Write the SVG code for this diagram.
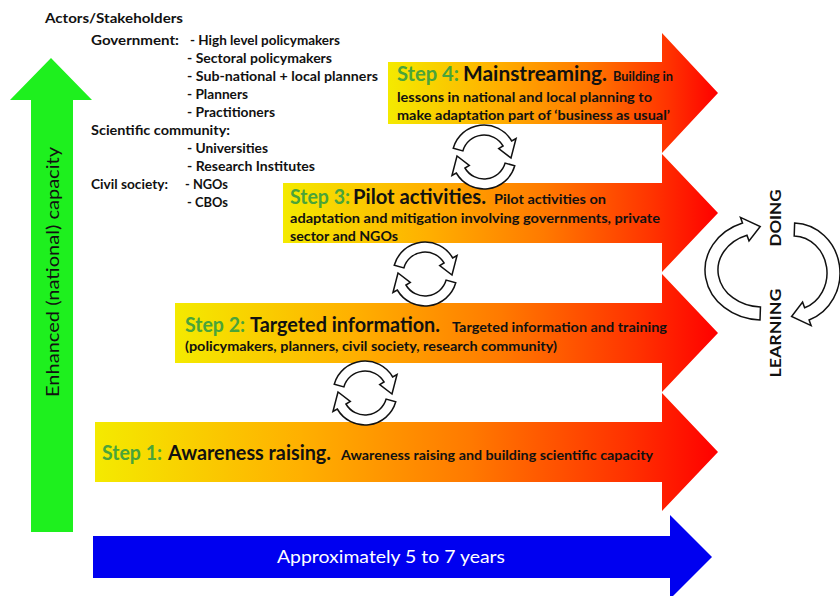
<svg xmlns="http://www.w3.org/2000/svg" width="840" height="596" viewBox="0 0 840 596">
<defs>
<linearGradient id="stepGrad" x1="0" y1="0" x2="1" y2="0">
<stop offset="0" stop-color="#f4ea00"/>
<stop offset="0.33" stop-color="#ffb000"/>
<stop offset="0.6" stop-color="#ff7a00"/>
<stop offset="0.85" stop-color="#ff3300"/>
<stop offset="1" stop-color="#ff0000"/>
</linearGradient>
<path id="halfCycle" class="cyc" d="M -30.76 -8.82 A 32 32 0 0 1 27.71 -16 L 32.04 -18.5 L 27 1 L 14.72 -8.5 L 19.05 -11 A 22 22 0 0 0 -21.15 -6.06 Z"/>
</defs>
<style>
.t{font-family:Lato,"Open Sans","Liberation Sans",sans-serif;font-weight:bold;fill:#111}
.act{font-size:14px}
.big{font-size:20px}
.sm{font-size:13px}
.lab{fill:#4aa43a}
.reg{font-weight:normal;font-size:18px}
.cyc{fill:#fff;stroke:#111;stroke-width:1.5}
.step{fill:url(#stepGrad)}
</style>
<rect width="840" height="596" fill="#fff"/>

<g id="capacity-arrow">
<path d="M 31 532 V 100 H 10 L 51 58 L 92 100 H 73 V 532 Z" fill="#1ef01e"/>
<text class="t reg" transform="translate(59,272) rotate(-90)" text-anchor="middle" textLength="250" lengthAdjust="spacingAndGlyphs">Enhanced (national) capacity</text>
</g>

<g id="time-arrow">
<path d="M 93 536 H 670 V 515 L 712 557 L 670 599 V 578 H 93 Z" fill="#0000f0"/>
<text class="t reg" x="391" y="563" text-anchor="middle" style="fill:#fff" textLength="228" lengthAdjust="spacingAndGlyphs">Approximately 5 to 7 years</text>
</g>

<g id="actors" class="t act">
<text x="45" y="23" textLength="138" lengthAdjust="spacingAndGlyphs">Actors/Stakeholders</text>
<text x="91" y="45" textLength="88" lengthAdjust="spacingAndGlyphs">Government:</text>
<text x="190" y="45" textLength="150" lengthAdjust="spacingAndGlyphs">- High level policymakers</text>
<text x="187" y="63" textLength="145" lengthAdjust="spacingAndGlyphs">- Sectoral policymakers</text>
<text x="187" y="81" textLength="191" lengthAdjust="spacingAndGlyphs">- Sub-national + local planners</text>
<text x="187" y="99" textLength="61" lengthAdjust="spacingAndGlyphs">- Planners</text>
<text x="187" y="117" textLength="88" lengthAdjust="spacingAndGlyphs">- Practitioners</text>
<text x="91" y="135" textLength="139" lengthAdjust="spacingAndGlyphs">Scientific community:</text>
<text x="187" y="153" textLength="81" lengthAdjust="spacingAndGlyphs">- Universities</text>
<text x="187" y="171" textLength="128" lengthAdjust="spacingAndGlyphs">- Research Institutes</text>
<text x="91" y="189" textLength="77" lengthAdjust="spacingAndGlyphs">Civil society:</text>
<text x="185" y="189" textLength="43" lengthAdjust="spacingAndGlyphs">- NGOs</text>
<text x="187" y="207" textLength="41" lengthAdjust="spacingAndGlyphs">- CBOs</text>
</g>

<g id="step4">
<path class="step" d="M 388 62 H 662 V 33 L 718 93 L 662 153 V 124 H 388 Z"/>
<text class="t big lab" x="397" y="81" textLength="62" lengthAdjust="spacingAndGlyphs">Step 4:</text>
<text class="t big" x="463" y="81" textLength="144" lengthAdjust="spacingAndGlyphs">Mainstreaming.</text>
<text class="t sm" x="613" y="81" textLength="60" lengthAdjust="spacingAndGlyphs">Building in</text>
<text class="t sm" x="397" y="102" textLength="255" lengthAdjust="spacingAndGlyphs">lessons in national and local planning to</text>
<text class="t sm" x="397" y="120" textLength="273" lengthAdjust="spacingAndGlyphs">make adaptation part of ‘business as usual’</text>
</g>

<g id="step3">
<path class="step" d="M 283 183 H 662 V 154 L 718 213 L 662 272 V 243 H 283 Z"/>
<text class="t big lab" x="290" y="204" textLength="60" lengthAdjust="spacingAndGlyphs">Step 3:</text>
<text class="t big" x="353" y="204" textLength="133" lengthAdjust="spacingAndGlyphs">Pilot activities.</text>
<text class="t sm" x="494" y="204" textLength="112" lengthAdjust="spacingAndGlyphs">Pilot activities on</text>
<text class="t sm" x="290" y="223" textLength="370" lengthAdjust="spacingAndGlyphs">adaptation and mitigation involving governments, private</text>
<text class="t sm" x="290" y="241" textLength="108" lengthAdjust="spacingAndGlyphs">sector and NGOs</text>
</g>

<g id="step2">
<path class="step" d="M 175 303 H 662 V 274 L 718 333 L 662 392 V 363 H 175 Z"/>
<text class="t big lab" x="185" y="332" textLength="60" lengthAdjust="spacingAndGlyphs">Step 2:</text>
<text class="t big" x="250" y="332" textLength="190" lengthAdjust="spacingAndGlyphs">Targeted information.</text>
<text class="t sm" x="452" y="332" textLength="215" lengthAdjust="spacingAndGlyphs">Targeted information and training</text>
<text class="t sm" x="185" y="351" textLength="372" lengthAdjust="spacingAndGlyphs">(policymakers, planners, civil society, research community)</text>
</g>

<g id="step1">
<path class="step" d="M 95 422 H 662 V 393 L 718 452 L 662 511 V 482 H 95 Z"/>
<text class="t big lab" x="102" y="460" textLength="60" lengthAdjust="spacingAndGlyphs">Step 1:</text>
<text class="t big" x="168" y="460" textLength="163" lengthAdjust="spacingAndGlyphs">Awareness raising.</text>
<text class="t sm" x="341" y="460" textLength="312" lengthAdjust="spacingAndGlyphs">Awareness raising and building scientific capacity</text>
</g>

<g id="doing-learning">
<path class="cyc" d="M 760.01 319.97 A 57 50 0 0 1 742.51 223.02 L 740.45 217.38 L 760.2 226.5 L 749 240.87 L 746.95 235.23 A 44 37 0 0 0 760.46 306.98 Z"/>
<path class="cyc" d="M 794.64 223.03 A 47 50 0 0 1 809.07 319.98 L 811.13 325.62 L 791.6 316.5 L 802.58 302.13 L 804.63 307.77 A 34 37 0 0 0 794.19 236.02 Z"/>
<text class="t" style="font-size:16px" transform="translate(781,218) rotate(-90)" text-anchor="middle" textLength="57" lengthAdjust="spacingAndGlyphs">DOING</text>
<text class="t" style="font-size:16px" transform="translate(781,333) rotate(-90)" text-anchor="middle" textLength="89" lengthAdjust="spacingAndGlyphs">LEARNING</text>
</g>

<g id="connectors">
<use href="#halfCycle" transform="translate(484,157)"/>
<use href="#halfCycle" transform="translate(484,157) rotate(180)"/>
<use href="#halfCycle" transform="translate(425,274)"/>
<use href="#halfCycle" transform="translate(425,274) rotate(180)"/>
<use href="#halfCycle" transform="translate(365,393)"/>
<use href="#halfCycle" transform="translate(365,393) rotate(180)"/>
</g>
</svg>
